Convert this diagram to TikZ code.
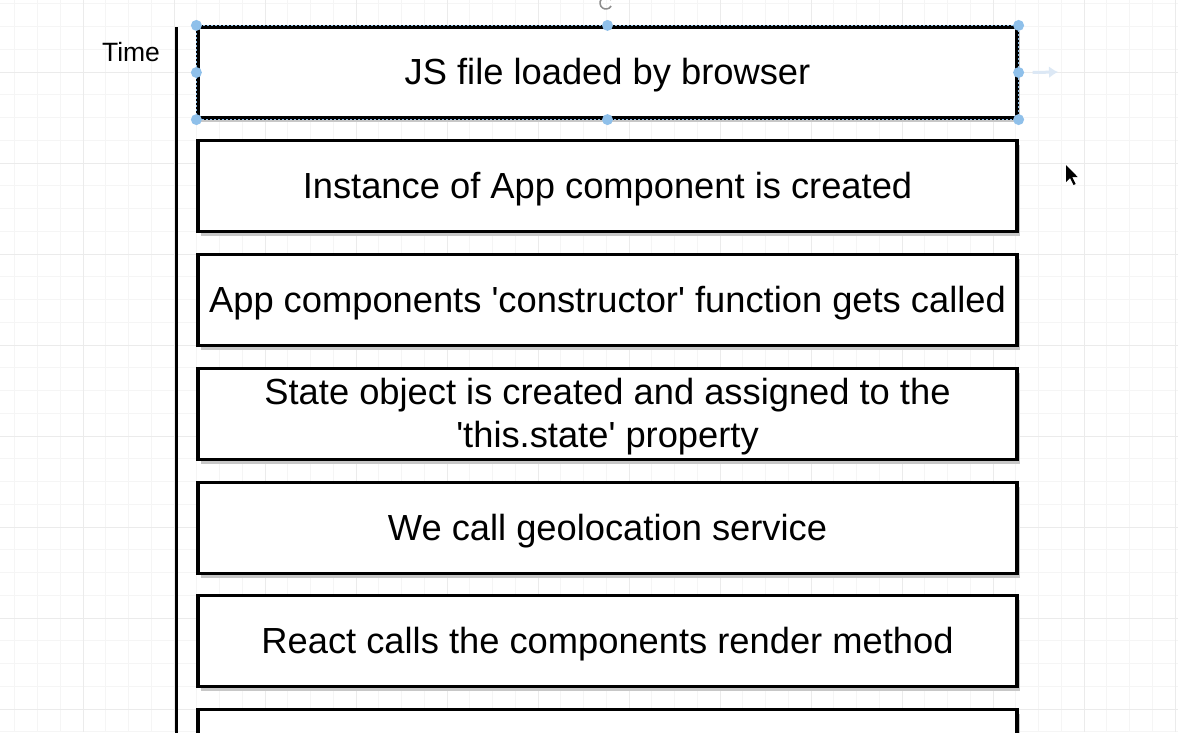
\documentclass[tikz,border=0pt]{standalone}
\usepackage{fontspec}
\setmainfont{Liberation Sans}
\newfontfamily\boxfont{Liberation Sans}
\usetikzlibrary{arrows.meta}
\begin{document}
\begin{tikzpicture}[x=1pt,y=-1pt,
  stepbox/.style={draw=black,line width=3.2pt,fill=white,minimum width=819pt,minimum height=91pt,inner sep=0pt,
    label={[steptext]center:#1}},
  steptext/.style={yshift=-3pt,inner sep=0pt,align=center,font=\boxfont\fontsize{36.3}{43}\selectfont},
  shadowbox/.style={fill=black!22,minimum width=819pt,minimum height=91pt,inner sep=0pt},
  handle/.style={circle,fill=handleblue,inner sep=0pt,minimum size=11pt}]
\definecolor{handleblue}{HTML}{8FC0EA}
\definecolor{faintblue}{HTML}{DCE8F5}
\useasboundingbox (0,0) rectangle (1178,732);
\fill[white] (0,0) rectangle (1178,732);
% grid
\foreach \i in {0,...,52} {\draw[black!4,line width=0.8pt] (-8+22.75*\i,0) -- (-8+22.75*\i,732);}
\foreach \i in {0,...,32} {\draw[black!4,line width=0.8pt] (0,3.75+22.75*\i) -- (1178,3.75+22.75*\i);}
\foreach \i in {0,...,13} {\draw[black!8,line width=0.8pt] (-8+91*\i,0) -- (-8+91*\i,732);}
\foreach \i in {0,...,8} {\draw[black!8,line width=0.8pt] (0,72+91*\i) -- (1178,72+91*\i);}
% time axis
\node[font=\fontsize{26.5}{30}\selectfont] (time) at (131,52) {Time};
\coordinate (axtop) at (176,27);
\coordinate (axbot) at (176,740);
\draw[line width=3pt] (axtop) -- (axbot);
% shadows
\foreach \y in {72,186,300,414,528,641,755} {\node[shadowbox] at (610.5,\y+4) {};}
% boxes
\node[stepbox={JS file loaded by browser}] (b1) at (607.5,72.5) {};
\draw[handleblue,line width=1pt,dash pattern=on 2pt off 2pt] (b1.north west) rectangle (b1.south east);
\node[stepbox={Instance of App component is created}] (b2) at (607.5,186) {};
\node[stepbox={App components 'constructor' function gets called}] (b3) at (607.5,300) {};
\node[stepbox={State object is created and assigned to the\\'this.state' property}] (b4) at (607.5,414) {};
\node[stepbox={We call geolocation service}] (b5) at (607.5,528) {};
\node[stepbox={React calls the components render method}] (b6) at (607.5,641) {};
\node[stepbox={}] (b7) at (607.5,755) {};
% selection handles
\foreach \a in {north west,north,north east,west,east,south west,south,south east} {\node[handle] at (b1.\a) {};}
% faint connector hint arrow
\coordinate (hintend) at (1058,72);
\draw[faintblue,line width=3pt,-{Latex[length=9pt,width=12pt]}] ([xshift=14pt]b1.east) -- (hintend);
% rotate handle
\coordinate (rot) at (606,3);
\draw[black!45,line width=1.5pt] (rot) ++(30:6pt) arc (30:330:6pt);
% mouse cursor
\coordinate (cur) at (1066,165);
\fill[black] (cur) -- ++(0,17) -- ++(4,-4) -- ++(3.5,7) -- ++(2.2,-1) -- ++(-3.5,-7) -- ++(5.5,0) -- cycle;
\end{tikzpicture}
\end{document}
